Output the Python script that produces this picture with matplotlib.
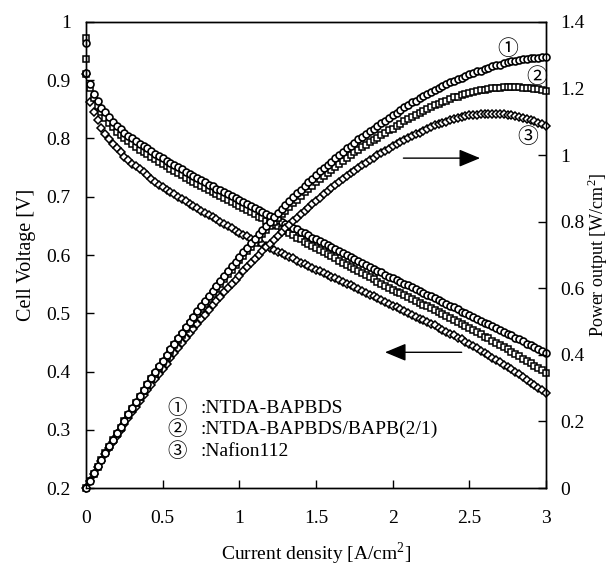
import numpy as np
import matplotlib
matplotlib.use("Agg")
from matplotlib import pyplot as plt
from matplotlib.ticker import FuncFormatter

plt.rcParams['font.family'] = ['Liberation Serif']
plt.rcParams['mathtext.fontset'] = 'custom'
plt.rcParams['mathtext.rm'] = 'Liberation Serif'

# current density [A/cm2], one reading every 0.025
current = np.linspace(0, 3, 121)

# cell voltage [V]
volt1 = [0.912, 0.893, 0.877, 0.864, 0.853,
         0.845, 0.837, 0.829, 0.822,
         0.816, 0.810, 0.805, 0.800,
         0.795, 0.791, 0.787, 0.783, 0.778, 0.774, 0.770, 0.766,
         0.762, 0.758, 0.755, 0.751, 0.747, 0.743, 0.739, 0.736, 0.732, 0.728,
         0.725, 0.721, 0.718, 0.714, 0.711, 0.708, 0.704, 0.701, 0.697, 0.694,
         0.691, 0.687, 0.684, 0.680, 0.677, 0.674, 0.670, 0.667,
         0.664, 0.660, 0.657, 0.654, 0.650, 0.647, 0.644, 0.640, 0.637, 0.634, 0.630, 0.627,
         0.624, 0.620, 0.617, 0.613, 0.610, 0.607, 0.603, 0.600, 0.596, 0.593,
         0.590, 0.586, 0.583, 0.580, 0.576, 0.573, 0.570, 0.566, 0.563, 0.560,
         0.557, 0.554, 0.551, 0.548, 0.545, 0.541, 0.538, 0.535, 0.532, 0.529,
         0.526, 0.523, 0.519, 0.516, 0.513, 0.510, 0.507, 0.503, 0.500, 0.497,
         0.494, 0.491, 0.487, 0.484, 0.481, 0.478, 0.475, 0.471, 0.468, 0.465,
         0.462, 0.458, 0.455, 0.452, 0.448, 0.445, 0.442, 0.438, 0.435, 0.432]
volt2 = [0.910, 0.887, 0.870, 0.856, 0.845,
         0.836, 0.827, 0.819, 0.812,
         0.806, 0.800, 0.795, 0.790,
         0.786, 0.781, 0.777, 0.773, 0.769, 0.764, 0.760, 0.756,
         0.752, 0.748, 0.745, 0.741, 0.737, 0.733, 0.729, 0.726, 0.722, 0.718,
         0.715, 0.711, 0.708, 0.704, 0.701, 0.698, 0.694, 0.691, 0.687, 0.684,
         0.680, 0.677, 0.673, 0.670, 0.666, 0.663, 0.659, 0.656,
         0.652, 0.649, 0.645, 0.641, 0.638, 0.634, 0.630, 0.627, 0.623, 0.619, 0.616, 0.612,
         0.608, 0.605, 0.601, 0.598, 0.594, 0.590, 0.587, 0.583, 0.580, 0.576,
         0.572, 0.569, 0.565, 0.562, 0.558, 0.554, 0.551, 0.547, 0.544, 0.540,
         0.537, 0.534, 0.531, 0.528, 0.524, 0.521, 0.518, 0.515, 0.512, 0.509,
         0.506, 0.502, 0.499, 0.495, 0.492, 0.489, 0.485, 0.482, 0.478, 0.475,
         0.471, 0.468, 0.464, 0.460, 0.457, 0.453, 0.449, 0.445, 0.442, 0.438,
         0.434, 0.430, 0.426, 0.422, 0.418, 0.414, 0.410, 0.406, 0.402, 0.398]
volt3 = [0.910, 0.862, 0.846, 0.831, 0.818,
         0.808, 0.799, 0.791, 0.783,
         0.776, 0.769, 0.763, 0.757,
         0.752, 0.747, 0.742, 0.737, 0.731, 0.726, 0.721, 0.716,
         0.712, 0.708, 0.704, 0.700, 0.696, 0.692, 0.688, 0.684, 0.680, 0.676,
         0.672, 0.668, 0.665, 0.661, 0.657, 0.653, 0.649, 0.646, 0.642, 0.638,
         0.635, 0.632, 0.628, 0.625, 0.622, 0.619, 0.615, 0.612,
         0.609, 0.606, 0.603, 0.600, 0.597, 0.594, 0.590, 0.587, 0.584, 0.581, 0.578, 0.575,
         0.572, 0.569, 0.566, 0.563, 0.560, 0.557, 0.554, 0.551, 0.548, 0.545,
         0.542, 0.539, 0.535, 0.532, 0.529, 0.526, 0.523, 0.519, 0.516, 0.513,
         0.510, 0.507, 0.504, 0.500, 0.497, 0.494, 0.491, 0.488, 0.485, 0.482,
         0.479, 0.475, 0.472, 0.468, 0.465, 0.462, 0.458, 0.455, 0.451, 0.448,
         0.444, 0.440, 0.436, 0.432, 0.428, 0.424, 0.420, 0.416, 0.412, 0.408,
         0.404, 0.399, 0.395, 0.390, 0.386, 0.381, 0.377, 0.372, 0.368, 0.363]

# open circuit readings at 0 A/cm2
ocv_circle = [0.964]
ocv_square = [0.972, 0.936]

names = ["NTDA-BAPBDS", "NTDA-BAPBDS/BAPB(2/1)", "Nafion112"]
marks = ["\u2460", "\u2461", "\u2462"]

# power output = current density x cell voltage
power1 = current * np.array(volt1)
power2 = current * np.array(volt2)
power3 = current * np.array(volt3)

fig, ax = plt.subplots(figsize=(6.11, 5.68), dpi=100)
fig.subplots_adjust(left=0.1408, right=0.8936, bottom=0.1408, top=0.9613)
ax2 = ax.twinx()

style1 = dict(ls='none', marker='o', ms=5.0, mew=1.2, mec='k', mfc='white', clip_on=False)
style2 = dict(ls='none', marker='s', ms=4.6, mew=1.1, mec='k', mfc='white', clip_on=False)
style3 = dict(ls='none', marker='D', ms=3.6, mew=1.1, mec='k', mfc='white', clip_on=False)

ax.plot(current, volt3, **style3)
ax.plot(current, volt2, **style2)
ax.plot(current, volt1, **style1)
ax.plot([0] * len(ocv_square), ocv_square, **style2)
ax.plot([0] * len(ocv_circle), ocv_circle, **style1)

ax2.plot(current, power3, **style3)
ax2.plot(current, power2, **style2)
ax2.plot(current, power1, **style1)

ax.set_xlim(0, 3)
ax.set_ylim(0.2, 1)
ax2.set_ylim(0, 1.4)
ax.set_xticks(np.arange(0, 3.01, 0.5))
ax.set_yticks(np.arange(0.2, 1.001, 0.1))
ax2.set_yticks(np.arange(0, 1.401, 0.2))

fmt = FuncFormatter(lambda v, p: '%g' % round(v, 2))
ax.xaxis.set_major_formatter(fmt)
ax.yaxis.set_major_formatter(fmt)
ax2.yaxis.set_major_formatter(fmt)

ax.tick_params(axis='x', direction='in', length=6, width=1, labelsize=14, pad=16)
ax.tick_params(axis='y', direction='in', length=6, width=1, labelsize=14, pad=11)
ax2.tick_params(axis='y', direction='in', length=6, width=1, labelsize=14, pad=10)
for a in (ax, ax2):
    for s in a.spines.values():
        s.set_linewidth(1.0)

fig.text(0.517, 0.025, r"Current density [A/cm$^2$]", fontsize=14, ha='center', va='center')
fig.text(0.044, 0.551, "Cell Voltage [V]", fontsize=14.5, rotation=90, ha='center', va='center')
fig.text(0.978, 0.551, r"Power output [W/cm$^2$]", fontsize=13, rotation=90, ha='center', va='center')

# arrows telling which axis each group belongs to
arrow = dict(arrowstyle='-|>,head_length=0.65,head_width=0.27', color='k', lw=1.0,
             mutation_scale=20, shrinkA=0, shrinkB=0)
ax2.annotate('', xy=(2.57, 0.991), xytext=(2.07, 0.991), arrowprops=arrow)
ax.annotate('', xy=(1.95, 0.433), xytext=(2.45, 0.433), arrowprops=arrow)

# circled labels next to the power curves
cjk = ['Noto Sans CJK JP', 'DejaVu Sans']
ax2.text(2.75, 1.319, marks[0], family=cjk, fontsize=15, ha='center', va='center')
ax2.text(2.94, 1.235, marks[1], family=cjk, fontsize=15, ha='center', va='center')
ax2.text(2.88, 1.054, marks[2], family=cjk, fontsize=15, ha='center', va='center')

# legend block
rows = [0.336, 0.300, 0.262]
for m, n, y in zip(marks, names, rows):
    ax.text(0.594, y, m, family=cjk, fontsize=14, ha='center', va='center')
    ax.text(0.745, y, ':' + n, fontsize=14, ha='left', va='center')

fig.savefig('out.png', dpi=100)
